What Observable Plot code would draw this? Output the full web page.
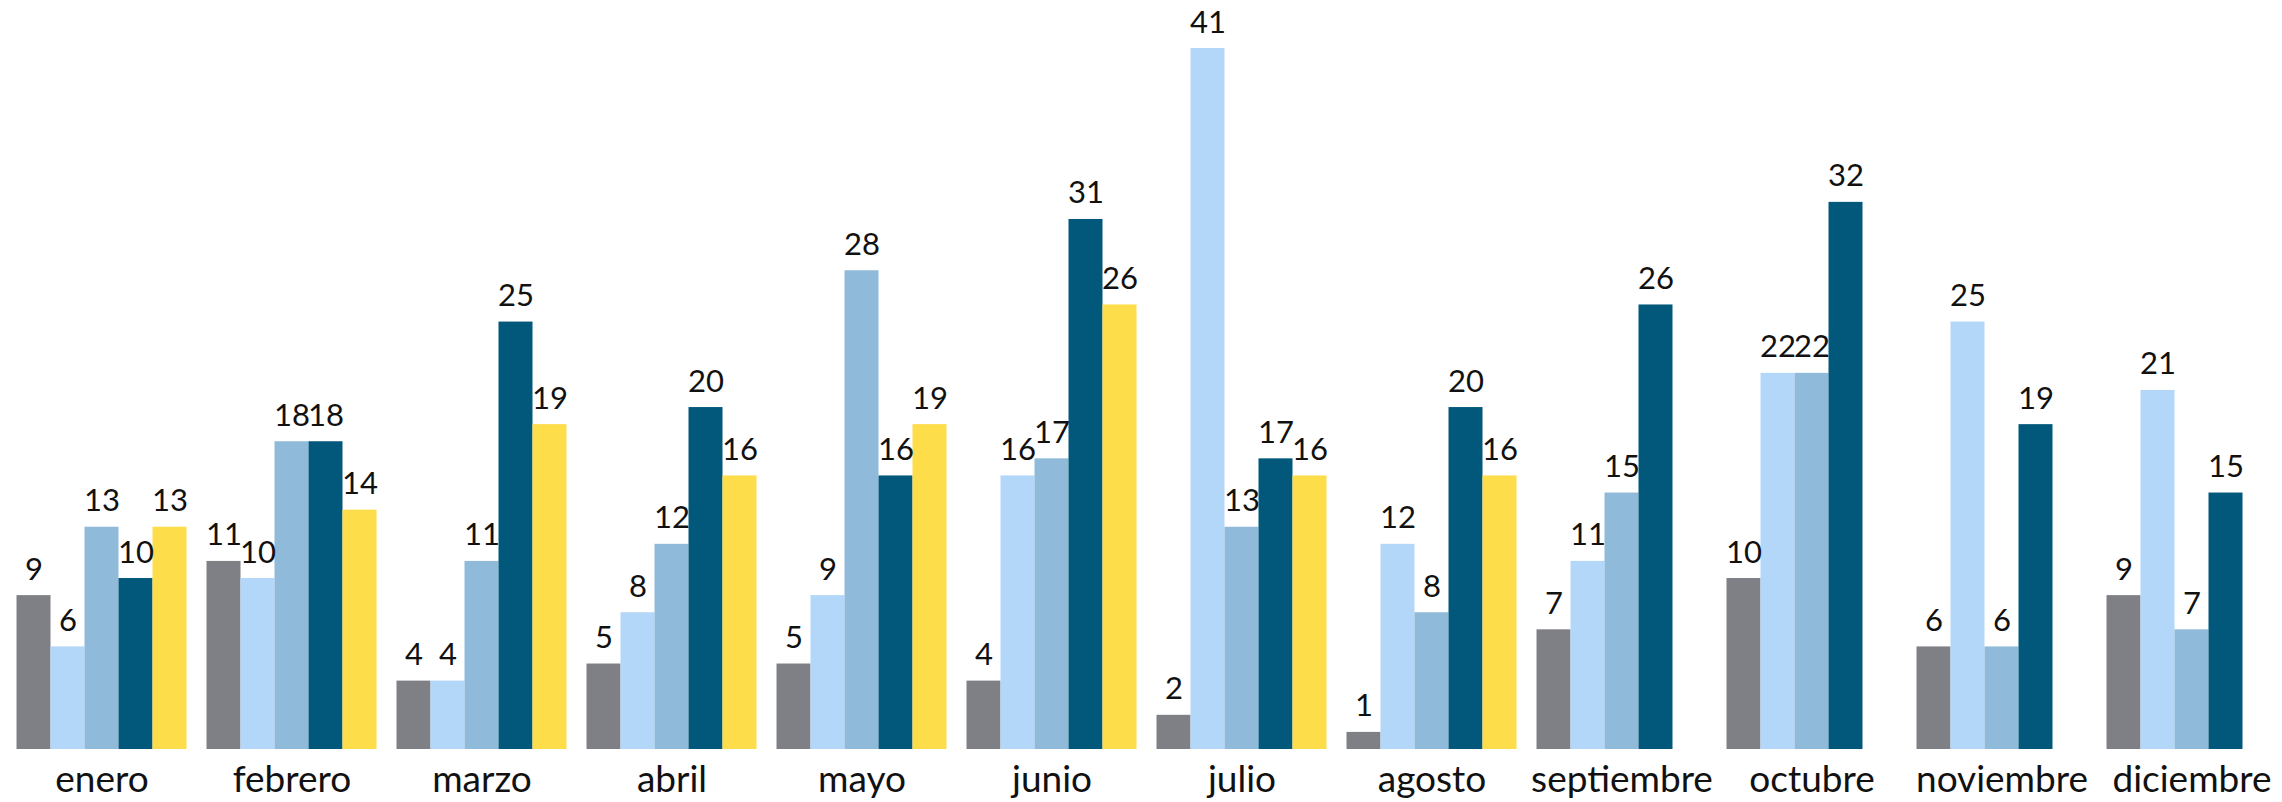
<!DOCTYPE html>
<html>
<head>
<meta charset="utf-8">
<script src="https://cdn.jsdelivr.net/npm/d3@7"></script>
<script src="https://cdn.jsdelivr.net/npm/@observablehq/plot@0.6"></script>
<style>
  html, body { margin: 0; padding: 0; background: #fff; }
  #chart svg { display: block; }
</style>
</head>
<body>
<div id="chart"></div>
<script>
const months = ["enero","febrero","marzo","abril","mayo","junio","julio","agosto","septiembre","octubre","noviembre","diciembre"];
const seriesNames = ["serie 1","serie 2","serie 3","serie 4","serie 5"];
const serie1 = [9, 11, 4, 5, 5, 4, 2, 1, 7, 10, 6, 9];
const serie2 = [6, 10, 4, 8, 9, 16, 41, 12, 11, 22, 25, 21];
const serie3 = [13, 18, 11, 12, 28, 17, 13, 8, 15, 22, 6, 7];
const serie4 = [10, 18, 25, 20, 16, 31, 17, 20, 26, 32, 19, 15];
const serie5 = [13, 14, 19, 16, 19, 26, 16, 16, null, null, null, null];
const colors = ["#7f8085", "#b3d7f9", "#8fbad9", "#02587a", "#fedd4a"];

const allSeries = [serie1, serie2, serie3, serie4, serie5];
const data = [];
months.forEach((m, i) => {
  allSeries.forEach((s, j) => {
    if (s[i] != null) data.push({month: m, series: seriesNames[j], value: s[i]});
  });
});

const chart = Plot.plot({
  width: 2282,
  height: 802,
  marginLeft: 11.5,
  marginRight: 0,
  marginTop: 48,
  marginBottom: 53,
  style: {fontFamily: "Lato, sans-serif", background: "#fff"},
  fx: {domain: months, paddingInner: 0.09, paddingOuter: 0, label: null},
  x: {domain: seriesNames, padding: 0, axis: null},
  y: {domain: [0, 41], axis: null},
  color: {domain: seriesNames, range: colors},
  marks: [
    Plot.barY(data, {fx: "month", x: "series", y: "value", fill: "series"}),
    Plot.text(data, {fx: "month", x: "series", y: "value", text: d => String(d.value),
      lineAnchor: "bottom", dy: -16, fontSize: 31, fill: "#111"}),
    Plot.axisFx({anchor: "bottom", tickSize: 0, tickPadding: 16, fontSize: 37, color: "#111", label: null})
  ]
});
document.getElementById("chart").appendChild(chart);
</script>
</body>
</html>
